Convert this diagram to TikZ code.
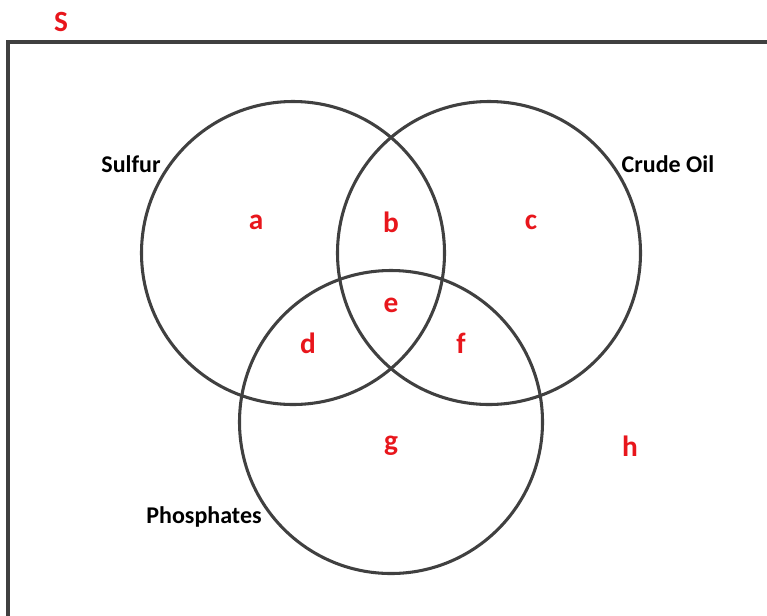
\documentclass[tikz,border=0pt]{standalone}
\usepackage{fontspec}
\setmainfont{Carlito}
\definecolor{vred}{RGB}{232,22,28}
\definecolor{vline}{RGB}{64,64,64}
\begin{document}
\begin{tikzpicture}[x=0.75pt,y=-0.75pt,
  setcircle/.style={draw=vline,line width=2.3pt},
  region/.style={text=vred,font=\bfseries\fontsize{22}{26}\selectfont,inner sep=0pt},
  setname/.style={text=black,font=\bfseries\fontsize{18}{22}\selectfont,inner sep=0pt}]
\useasboundingbox (0,0) rectangle (767,615);
\begin{scope}
\clip (0,0) rectangle (767,615);
\draw[vline,line width=2.3pt] (8,640) -- (8,42) -- (790,42);
\end{scope}
\node[region] (S) at (61,22) {S};
\draw[setcircle] (293,253) circle[radius=151.5];
\draw[setcircle] (489,253) circle[radius=151.5];
\draw[setcircle] (391,422) circle[radius=151.5];
\node[setname] (sulfur) at (131,164) {Sulfur};
\node[setname] (crude) at (668,164) {Crude Oil};
\node[setname] (phos) at (204,517) {Phosphates};
\node[region] (a) at (256,222) {a};
\node[region] (b) at (391,222) {b};
\node[region] (c) at (531,222) {c};
\node[region] (e) at (391,305) {e};
\node[region] (d) at (308,343) {d};
\node[region] (f) at (461,343) {f};
\node[region] (g) at (391,446) {g};
\node[region] (h) at (630,446) {h};
\end{tikzpicture}
\end{document}
